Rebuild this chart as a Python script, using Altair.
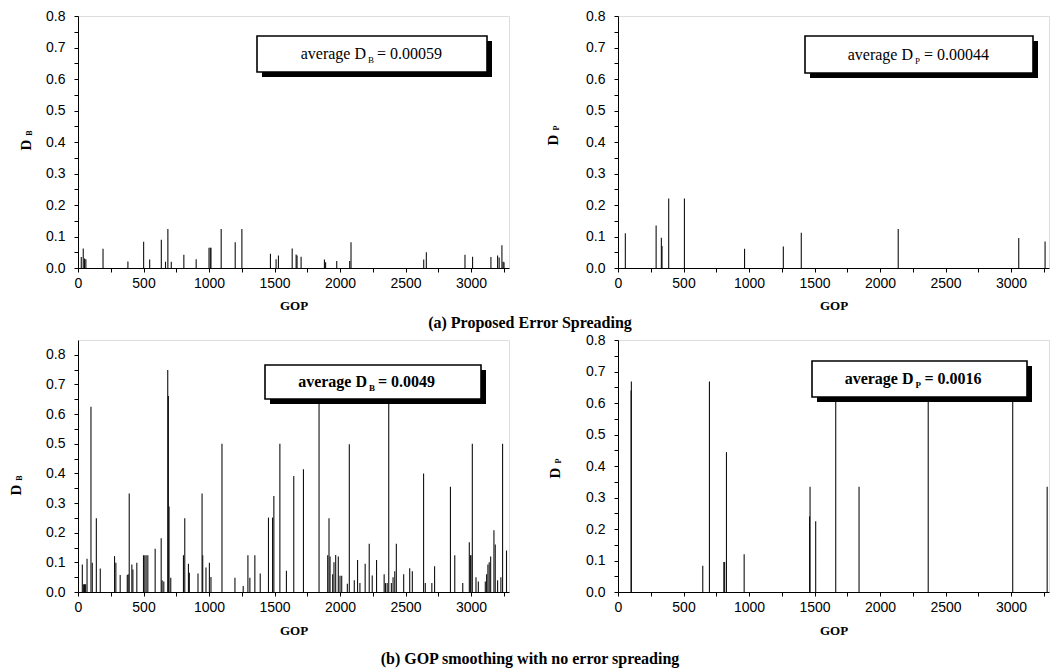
import altair as alt
import pandas as pd

# ---------------- data ----------------
# (a) Proposed error spreading, B frames
a_b_gop = [25, 40, 50, 60, 191, 381, 501, 547, 636, 668, 686, 712, 808, 902, 1000, 1010, 1015,
           1093, 1200, 1251, 1469, 1512, 1530, 1635, 1665, 1672, 1703, 1881, 1890, 1975, 2074,
           2084, 2639, 2659, 2954, 3012, 3152, 3203, 3215, 3236, 3245, 3252]
a_b_val = [0.035, 0.062, 0.03, 0.028, 0.061, 0.021, 0.083, 0.027, 0.09, 0.02, 0.124, 0.02, 0.042,
           0.028, 0.064, 0.064, 0.064, 0.124, 0.082, 0.124, 0.045, 0.028, 0.04, 0.062, 0.043, 0.04,
           0.036, 0.027, 0.018, 0.022, 0.022, 0.082, 0.027, 0.05, 0.042, 0.036, 0.035, 0.04, 0.033,
           0.072, 0.02, 0.018]

# (a) Proposed error spreading, P frames
a_p_gop = [56, 291, 331, 336, 387, 507, 966, 1262, 1399, 2139, 3059, 3260]
a_p_val = [0.11, 0.135, 0.096, 0.07, 0.221, 0.221, 0.061, 0.068, 0.112, 0.124, 0.095, 0.084]

# (b) GOP smoothing, B frames
b_b_gop = [33, 43, 50, 58, 69, 99, 109, 140, 170, 279, 289, 322, 376, 383, 391, 411, 419, 449,
           500, 510, 520, 533, 589, 635, 642, 655, 685, 690, 695, 708, 805, 815, 843, 850, 916,
           947, 952, 977, 1003, 1015, 1099, 1198, 1261, 1297, 1312, 1350, 1391, 1454, 1485, 1495,
           1541, 1591, 1647, 1721, 1840, 1906, 1916, 1924, 1944, 1954, 1967, 1987, 2000, 2013,
           2056, 2071, 2109, 2134, 2152, 2192, 2223, 2246, 2279, 2337, 2347, 2360, 2372, 2392,
           2405, 2418, 2430, 2486, 2532, 2552, 2638, 2651, 2701, 2722, 2843, 2876, 2937, 2987,
           2995, 3000, 3010, 3038, 3056, 3109, 3119, 3129, 3139, 3150, 3175, 3185, 3203, 3228,
           3241, 3271]
b_b_val = [0.093, 0.026, 0.026, 0.026, 0.112, 0.625, 0.099, 0.249, 0.079, 0.121, 0.099, 0.057,
           0.057, 0.06, 0.332, 0.093, 0.076, 0.099, 0.124, 0.124, 0.124, 0.124, 0.146, 0.181, 0.04,
           0.035, 0.749, 0.661, 0.288, 0.048, 0.124, 0.249, 0.095, 0.065, 0.062, 0.332, 0.124,
           0.083, 0.099, 0.051, 0.5, 0.048, 0.02, 0.124, 0.048, 0.124, 0.062, 0.251, 0.251, 0.324,
           0.5, 0.072, 0.391, 0.414, 0.7, 0.124, 0.249, 0.12, 0.06, 0.1, 0.125, 0.12, 0.055, 0.055,
           0.028, 0.498, 0.04, 0.108, 0.03, 0.095, 0.163, 0.056, 0.108, 0.06, 0.03, 0.03, 0.7,
           0.03, 0.05, 0.07, 0.163, 0.06, 0.08, 0.07, 0.4, 0.03, 0.03, 0.087, 0.355, 0.124, 0.03,
           0.168, 0.124, 0.124, 0.5, 0.05, 0.035, 0.035, 0.06, 0.093, 0.1, 0.12, 0.208, 0.16, 0.04,
           0.05, 0.5, 0.14]

# (b) GOP smoothing, P frames
b_p_gop = [100, 102, 647, 698, 808, 814, 828, 963, 1462, 1466, 1509, 1662, 1840, 2368, 3013, 3276]
b_p_val = [0.64, 0.668, 0.083, 0.668, 0.095, 0.095, 0.444, 0.12, 0.24, 0.334, 0.225, 0.667,
           0.334, 0.667, 0.667, 0.334]

x_ticks = list(range(0, 3300, 250))
y_ticks = [round(i * 0.05, 2) for i in range(17)]

W = 431
H = 252
SANS = "Liberation Sans"
SERIF = "Liberation Serif"

major_y = "abs(datum.value*10 - round(datum.value*10)) < 0.001"


def panel(gop, val, ymax, sub, avg, box, bold_box, dpos, gop_pad, caption=None, cap_y=0):
    df = pd.DataFrame({"gop": gop, "val": val})
    x_axis = alt.Axis(
        title="GOP", values=x_ticks, format="d", grid=False,
        labelExpr="datum.value % 500 === 0 ? datum.label : ''",
        ticks=True, tickSize=4, tickWidth=1,
        labelFont=SANS, labelFontSize=14, labelColor="black", labelPadding=4,
        tickColor="black", domainColor="black", labelFlush=False,
        titleFont=SERIF, titleFontSize=13, titleFontWeight="bold", titleColor="black",
        titlePadding=gop_pad,
    )
    y_axis = alt.Axis(
        title=None, values=y_ticks, grid=False,
        labelExpr=major_y + " ? format(datum.value, '.1f') : ''",
        ticks=True, tickSize=4, tickWidth=1,
        labelFont=SANS, labelFontSize=14, labelColor="black", labelPadding=9,
        tickColor="black", domainColor="black",
    )
    rules = alt.Chart(df).mark_rule(color="#111", strokeWidth=1.1, clip=True).encode(
        x=alt.X("gop:Q", scale=alt.Scale(domain=[0, 3290], nice=False), axis=x_axis),
        y=alt.Y("val:Q", scale=alt.Scale(domain=[0, ymax], nice=False), axis=y_axis),
        y2=alt.datum(0),
    )
    bx1, bx2, by1, by2 = box
    one = pd.DataFrame({"k": [0]})
    shadow = alt.Chart(one).mark_rect(color="black").encode(
        x=alt.value(bx1 + 5), x2=alt.value(bx2 + 5), y=alt.value(by1 + 5), y2=alt.value(by2 + 5))
    frame = alt.Chart(one).mark_rect(fill="white", stroke="black", strokeWidth=1.6).encode(
        x=alt.value(bx1), x2=alt.value(bx2), y=alt.value(by1), y2=alt.value(by2))
    cx = (bx1 + bx2) / 2 - 6
    cy = (by1 + by2) / 2
    wt = "bold" if bold_box else "normal"
    t1 = alt.Chart(pd.DataFrame({"t": ["average D"]})).mark_text(
        font=SERIF, fontSize=16, fontWeight=wt, align="right", baseline="middle", color="black"
    ).encode(text="t:N", x=alt.value(cx), y=alt.value(cy))
    t2 = alt.Chart(pd.DataFrame({"t": [sub]})).mark_text(
        font=SERIF, fontSize=9, fontWeight=wt, align="left", baseline="middle", color="black"
    ).encode(text="t:N", x=alt.value(cx + 2), y=alt.value(cy + 6))
    t3 = alt.Chart(pd.DataFrame({"t": ["= " + avg]})).mark_text(
        font=SERIF, fontSize=16, fontWeight=wt, align="left", baseline="middle", color="black"
    ).encode(text="t:N", x=alt.value(cx + 11), y=alt.value(cy))
    dx, dy = dpos
    yd = alt.Chart(pd.DataFrame({"t": ["D"]})).mark_text(
        font=SERIF, fontSize=15, fontWeight="bold", angle=270, align="center",
        baseline="middle", color="black"
    ).encode(text="t:N", x=alt.value(dx), y=alt.value(dy))
    ys = alt.Chart(pd.DataFrame({"t": [sub]})).mark_text(
        font=SERIF, fontSize=8, fontWeight="bold", angle=270, align="center",
        baseline="middle", color="black"
    ).encode(text="t:N", x=alt.value(dx + 4), y=alt.value(dy - 12))
    layers = [rules, shadow, frame, t1, t2, t3, yd, ys]
    if caption:
        cap = alt.Chart(pd.DataFrame({"t": [caption]})).mark_text(
            font=SERIF, fontSize=16, fontWeight="bold", align="center", baseline="middle",
            color="black"
        ).encode(text="t:N", x=alt.value(452), y=alt.value(cap_y))
        layers.append(cap)
    return alt.layer(*layers).properties(width=W, height=H)


tl = panel(a_b_gop, a_b_val, 0.8, "B", "0.00059", (179, 409, 20, 56), False, (-52, 129), 9,
           "(a) Proposed Error Spreading", H + 55)
tr = panel(a_p_gop, a_p_val, 0.8, "P", "0.00044", (187, 415, 20, 57), False, (-65, 124), 9)
bl = panel(b_b_gop, b_b_val, 0.85, "B", "0.0049", (187, 403, 25, 59), True, (-62, 150), 10,
           "(b) GOP smoothing with no error spreading", H + 67)
br = panel(b_p_gop, b_p_val, 0.8, "P", "0.0016", (194, 409, 21, 57), True, (-63, 133), 10)

chart = alt.concat(
    tl, tr, bl, br, columns=2, spacing={"row": 72, "column": 109}, bounds="flush"
).properties(
    padding={"left": 0, "top": 0, "right": 0, "bottom": 0}
).configure_view(stroke=None).configure(background="white")

chart.save("out.html", embed_options={"renderer": "svg", "actions": False})
